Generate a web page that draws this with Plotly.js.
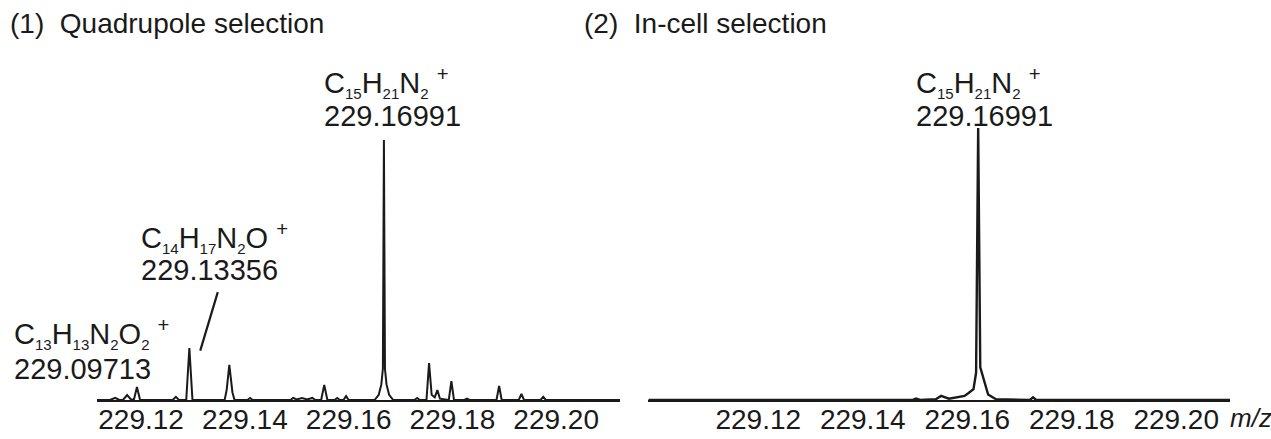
<!DOCTYPE html>
<html>
<head>
<meta charset="utf-8">
<script src="https://cdn.plot.ly/plotly-3.0.1.min.js"></script>
<style>html,body{margin:0;padding:0;background:#fff;}#chart{width:1271px;height:439px;}</style>
</head>
<body>
<div id="chart"></div>
<script>
// Panel (1) Quadrupole selection: profile points (m/z, relative intensity)
const quadMz = [229.1115,229.1140,229.1150,229.1158,229.1165,229.1173,229.1180,229.1186,229.1192,229.1198,
  229.1261,229.1267,229.1273,229.1287,229.1293,229.1299,229.1361,229.1365,229.1370,229.1376,229.1380,
  229.1405,229.1410,229.1415,229.1488,229.1493,229.1500,229.1510,229.1520,229.1530,229.1536,
  229.1547,229.1553,229.1559,229.1573,229.1578,229.1583,229.1590,229.1595,229.1600,
  229.1650,229.1658,229.1663,229.1666,229.1668,229.1670,229.1673,229.1678,229.1686,
  229.1727,229.1732,229.1737,229.1750,229.1755,229.1760,229.1766,229.1771,229.1776,
  229.1793,229.1798,229.1803,229.1823,229.1828,229.1833,229.1885,229.1890,229.1895,
  229.1928,229.1933,229.1938,229.1970,229.1975,229.1980,229.2123];
const quadInt = [0,0,0.8,0,0,1.9,0.3,0,5.0,0,
  0,1.2,0,0,20,0,0,4,13.5,3,0,
  0,0.8,0,0,0.8,0.2,0.8,0.2,0.8,0,
  0,5.8,0,0,0.8,0,0,1.5,0,
  0,2,6,12,100,12,6,2,0,
  0,0.8,0,0,14.2,2,1,3.8,0.5,
  0,7.3,0,0,0.5,0,0,5.4,0,
  0,2.3,0,0,1.2,0,0];

// Panel (2) In-cell selection
const cellMz = [229.0990,229.1495,229.1502,229.1510,229.1540,229.1550,229.1565,229.1595,229.1602,229.1612,
  229.1617,229.1621,229.1625,229.1632,229.1640,229.1655,229.1720,229.1726,229.1732,229.2103];
const cellInt = [0,0,0.5,0,0.3,1.5,0.5,1.5,2.5,4,
  10,100,12,7.4,2,0.3,0,1,0,0];

const tickVals = [229.12,229.14,229.16,229.18,229.20];
const tickText = ['229.12','229.14','229.16','229.18','229.20'];

const panelTitles = ['(1)  Quadrupole selection','(2)  In-cell selection'];
const s = n => '<sub><span style="font-size:15px">' + n + '</span></sub>';
const labelFormulas = ['C' + s('13') + 'H' + s('13') + 'N' + s('2') + 'O' + s('2') + ' <sup>+</sup>',
  'C' + s('14') + 'H' + s('17') + 'N' + s('2') + 'O <sup>+</sup>',
  'C' + s('15') + 'H' + s('21') + 'N' + s('2') + ' <sup>+</sup>',
  'C' + s('15') + 'H' + s('21') + 'N' + s('2') + ' <sup>+</sup>'];
const labelMasses = ['229.09713','229.13356','229.16991','229.16991'];

const W = 1271, H = 439;
const px = x => x / W, py = y => 1 - y / H;
const FONT = 'Liberation Sans, Arial, Helvetica, sans-serif';
const INK = '#1a1a1a';

const traces = [
  {x: quadMz, y: quadInt, xaxis: 'x', yaxis: 'y', type: 'scatter', mode: 'lines',
   line: {color: INK, width: 2}, hoverinfo: 'x+y'},
  {x: cellMz, y: cellInt, xaxis: 'x2', yaxis: 'y2', type: 'scatter', mode: 'lines',
   line: {color: INK, width: 2.4}, hoverinfo: 'x+y'}
];

const yDom = [py(400), py(128)];
const xBase = {showgrid: false, zeroline: false, showline: true, linecolor: INK, linewidth: 2,
  ticks: '', ticklen: 0, tickvals: tickVals, ticktext: tickText, ticklabelstandoff: -7,
  tickfont: {family: FONT, size: 28, color: INK}, fixedrange: true};
const yBase = {visible: false, showgrid: false, zeroline: false, fixedrange: true};

const labelPos = [ // [x px, y px of formula top, y px of mass top]
  [12, 312, 351], [139, 216, 252], [322, 61, 98], [914, 61, 98]
];

const annotations = [];
panelTitles.forEach((t, i) => {
  annotations.push({text: t, xref: 'paper', yref: 'paper', x: px(i === 0 ? 8 : 582), y: py(6),
    xanchor: 'left', yanchor: 'top', showarrow: false, font: {family: FONT, size: 28, color: INK}});
});
labelFormulas.forEach((f, i) => {
  annotations.push({text: f, xref: 'paper', yref: 'paper', x: px(labelPos[i][0]), y: py(labelPos[i][1]),
    xanchor: 'left', yanchor: 'top', showarrow: false, font: {family: FONT, size: 29, color: INK}});
  annotations.push({text: labelMasses[i], xref: 'paper', yref: 'paper', x: px(labelPos[i][0]), y: py(labelPos[i][2]),
    xanchor: 'left', yanchor: 'top', showarrow: false, font: {family: FONT, size: 29, color: INK}});
});
annotations.push({text: '<i>m/z</i>', xref: 'paper', yref: 'paper', x: px(1228), y: py(401),
  xanchor: 'left', yanchor: 'top', showarrow: false, font: {family: FONT, size: 26, color: INK}});
// leader line to the C14H17N2O+ peak
annotations.push({text: '', xref: 'x', yref: 'y', x: 229.1314, y: 19, ax: 18, ay: -60,
  showarrow: true, arrowhead: 0, arrowwidth: 2.2, arrowcolor: INK, standoff: 0});

const layout = {
  width: W, height: H, margin: {l: 0, r: 0, t: 0, b: 0},
  paper_bgcolor: '#fff', plot_bgcolor: '#fff', showlegend: false,
  xaxis: Object.assign({}, xBase, {domain: [px(97), px(620)], range: [229.1115, 229.2123], anchor: 'y'}),
  yaxis: Object.assign({}, yBase, {domain: yDom, range: [0, 104.6], anchor: 'x'}),
  xaxis2: Object.assign({}, xBase, {domain: [px(648), px(1230)], range: [229.0989, 229.2103], anchor: 'y2'}),
  yaxis2: Object.assign({}, yBase, {domain: yDom, range: [0, 100], anchor: 'x2'}),
  annotations: annotations
};

Plotly.newPlot('chart', traces, layout, {displayModeBar: false, staticPlot: true});
</script>
</body>
</html>
